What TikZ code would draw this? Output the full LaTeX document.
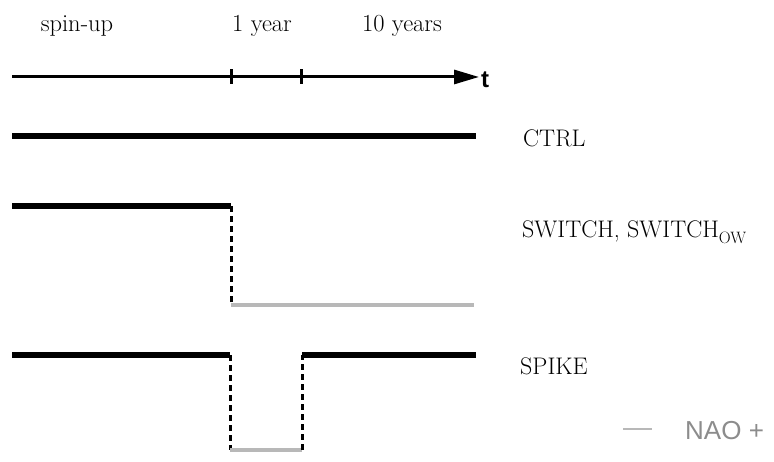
\documentclass[tikz,border=0pt]{standalone}
\usepackage{fontspec}
\newfontfamily\legendfont{Liberation Sans}
\usetikzlibrary{arrows.meta}
\begin{document}
\begin{tikzpicture}[x=1pt,y=1pt,
  lbl/.style={font=\fontsize{24}{28}\selectfont, inner sep=0pt, anchor=base west},
  toplbl/.style={font=\fontsize{24.5}{28}\selectfont, inner sep=0pt, anchor=base},
  run/.style={line width=6pt},
  low/.style={line width=3.5pt, draw=black!28},
  drop/.style={line width=3pt, dash pattern=on 6pt off 4pt},
  timeaxis/.style={line width=3pt, -{Triangle[length=25pt,width=14pt]}},
  tickmark/.style={line width=3pt}]
\useasboundingbox (0,0) rectangle (774,462);

% period labels
\node[toplbl] (spin) at (77,430) {spin-up};
\node[toplbl] (one) at (262,430) {1 year};
\node[toplbl] (ten) at (402,430) {10 years};

% time axis with year marks
\coordinate (a0) at (12,385);
\coordinate (a1) at (479,385);
\coordinate (k1) at (231,385);
\coordinate (k2) at (301,385);
\draw[timeaxis] (a0) -- (a1);
\draw[tickmark] ([yshift=-7pt]k1) -- ([yshift=8pt]k1);
\draw[tickmark] ([yshift=-7pt]k2) -- ([yshift=8pt]k2);
\node[inner sep=0pt, anchor=base west, font=\legendfont\bfseries\fontsize{24}{28}\selectfont] (t) at (481,374) {t};

% CTRL
\coordinate (c0) at (12,326);
\coordinate (c1) at (476,326);
\draw[run] (c0) -- (c1);
\node[lbl] (ctrl) at (523,315) {CTRL};

% SWITCH
\coordinate (s0) at (12,255.5);
\coordinate (s1) at (231,255.5);
\coordinate (s2) at (231,157);
\coordinate (s3) at (474,157);
\draw[run] (s0) -- (s1);
\draw[drop] (s1) -- (s2);
\draw[low] (s2) -- (s3);
\node[lbl] (switch) at (522,224) {SWITCH, SWITCH\raisebox{-0.22em}{\fontsize{16.5}{16.5}\selectfont OW}};

% SPIKE
\coordinate (p0) at (12,106.5);
\coordinate (p1) at (230,106.5);
\coordinate (p2) at (230,12);
\coordinate (p3) at (302,12);
\coordinate (p4) at (302,106.5);
\coordinate (p5) at (476,106.5);
\draw[run] (p0) -- (p1);
\draw[drop] (p1) -- (p2);
\draw[low] (p2) -- (p3);
\draw[drop] (p3) -- (p4);
\draw[run] (p4) -- (p5);
\node[lbl] (spike) at (520,87) {SPIKE};

% legend
\coordinate (l0) at (623,33);
\coordinate (l1) at (652,33);
\draw[line width=2pt, draw=black!28] (l0) -- (l1);
\node[inner sep=0pt, anchor=base west, text=black!45, font=\legendfont\fontsize{26}{29}\selectfont] (nao) at (685,22) {NAO +};
\end{tikzpicture}
\end{document}
